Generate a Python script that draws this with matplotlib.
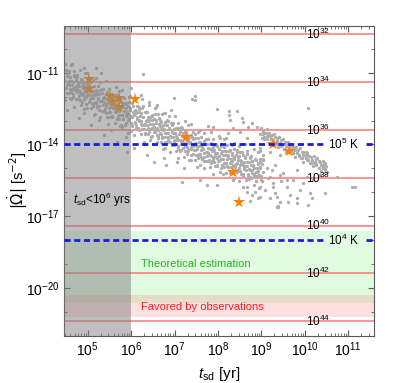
import numpy as np
import matplotlib
matplotlib.use("Agg")
import matplotlib.pyplot as plt
from matplotlib.ticker import FixedLocator, FixedFormatter, LogLocator, NullFormatter

plt.rcParams["font.family"] = ["Liberation Sans", "DejaVu Sans"]
plt.rcParams["mathtext.fontset"] = "custom"
plt.rcParams["mathtext.rm"] = "Liberation Sans"
plt.rcParams["mathtext.it"] = "Liberation Sans:italic"
plt.rcParams["mathtext.bf"] = "Liberation Sans:bold"

# all values are log10: t_sd in yr, |Omega dot| in s^-2
band_t = [
    4.47, 4.52, 4.49, 4.54, 4.46, 4.51, 4.53, 4.48,
    4.62, 4.56, 4.63, 4.58, 4.61, 4.59, 4.57, 4.64,
    4.69, 4.73, 4.66, 4.70, 4.74, 4.67, 4.72, 4.68,
    4.84, 4.78, 4.81, 4.77, 4.79, 4.83, 4.76, 4.82,
    4.92, 4.86, 4.93, 4.88, 4.91, 4.89, 4.87, 4.94,
    4.99, 5.03, 4.96, 5.00, 5.04, 4.97, 5.02, 4.98,
    5.14, 5.08, 5.11, 5.07, 5.09, 5.13, 5.06, 5.12,
    5.17, 5.22, 5.19, 5.24, 5.16, 5.21, 5.23, 5.18,
    5.29, 5.33, 5.26, 5.30, 5.34, 5.27, 5.32, 5.28,
    5.44, 5.38, 5.41, 5.37, 5.39, 5.43, 5.36, 5.42,
    5.47, 5.52, 5.49, 5.54, 5.46, 5.51, 5.53, 5.48,
    5.62, 5.56, 5.63, 5.58, 5.61, 5.59, 5.57, 5.64,
    5.74, 5.68, 5.71, 5.67, 5.69, 5.73, 5.66, 5.72,
    5.77, 5.82, 5.79, 5.84, 5.76, 5.81, 5.83, 5.78,
    5.92, 5.86, 5.93, 5.88, 5.91, 5.89, 5.87, 5.94,
    5.99, 6.03, 5.96, 6.00, 6.04, 5.97, 6.02, 5.98,
    6.07, 6.12, 6.09, 6.14, 6.06, 6.11, 6.13, 6.08,
    6.22, 6.16, 6.23, 6.18, 6.21, 6.19, 6.17, 6.24,
    6.29, 6.33, 6.26, 6.30, 6.34, 6.27, 6.32, 6.28,
    6.44, 6.38, 6.41, 6.37, 6.39, 6.43, 6.36, 6.42,
    6.52, 6.46, 6.53, 6.48, 6.51, 6.49, 6.47, 6.54,
    6.59, 6.63, 6.56, 6.60, 6.64, 6.57, 6.62, 6.58,
    6.74, 6.68, 6.71, 6.67, 6.69, 6.73, 6.66, 6.72,
    6.77, 6.82, 6.79, 6.84, 6.76, 6.81, 6.83, 6.78,
    6.89, 6.93, 6.86, 6.90, 6.94, 6.87, 6.92, 6.88,
    7.04, 6.98, 7.01, 6.97, 6.99, 7.03, 6.96, 7.02,
    7.07, 7.12, 7.09, 7.14, 7.06, 7.11, 7.13, 7.08,
    7.22, 7.16, 7.23, 7.18, 7.21, 7.19, 7.17, 7.24,
    7.34, 7.28, 7.31, 7.27, 7.29, 7.33, 7.26, 7.32,
    7.37, 7.42, 7.39, 7.44, 7.36, 7.41, 7.43, 7.38,
    7.52, 7.46, 7.53, 7.48, 7.51, 7.49, 7.47, 7.54,
    7.59, 7.63, 7.56, 7.60, 7.64, 7.57, 7.62, 7.58,
    7.67, 7.72, 7.69, 7.74, 7.66, 7.71, 7.73, 7.68,
    7.82, 7.76, 7.83, 7.78, 7.81, 7.79, 7.77, 7.84,
    7.89, 7.93, 7.86, 7.90, 7.94, 7.87, 7.92, 7.88,
    8.04, 7.98, 8.01, 7.97, 7.99, 8.03, 7.96, 8.02,
    8.12, 8.06, 8.13, 8.08, 8.11, 8.09, 8.07, 8.14,
    8.19, 8.23, 8.16, 8.20, 8.24, 8.17, 8.22, 8.18,
    8.34, 8.28, 8.31, 8.27, 8.29, 8.33, 8.26, 8.32,
    8.37, 8.42, 8.39, 8.44, 8.36, 8.41, 8.43, 8.38,
    8.49, 8.53, 8.46, 8.50, 8.54, 8.47, 8.52, 8.48,
    8.64, 8.58, 8.61, 8.57, 8.59, 8.63, 8.56, 8.62,
    8.67, 8.72, 8.69, 8.74, 8.66, 8.71, 8.73, 8.68,
    8.82, 8.76, 8.83, 8.78, 8.81, 8.79, 8.77, 8.84,
    8.94, 8.88, 8.91, 8.87, 8.89, 8.93, 8.86, 8.92,
    8.97, 9.02, 8.99, 9.04, 8.96, 9.01, 9.03, 8.98,
]
band_w = [
    -12.13, -11.85, -11.65, -11.47, -11.31, -11.14, -10.93, -10.65,
    -12.10, -11.85, -11.66, -11.50, -11.34, -11.16, -10.94, -10.62,
    -12.41, -12.10, -11.88, -11.70, -11.54, -11.38, -11.19, -10.93,
    -12.34, -12.08, -11.88, -11.71, -11.55, -11.37, -11.16, -10.86,
    -12.50, -12.22, -12.02, -11.84, -11.68, -11.51, -11.30, -11.02,
    -12.47, -12.22, -12.03, -11.87, -11.71, -11.53, -11.31, -10.99,
    -12.78, -12.47, -12.25, -12.07, -11.91, -11.75, -11.56, -11.30,
    -12.71, -12.45, -12.25, -12.08, -11.92, -11.74, -11.53, -11.23,
    -12.86, -12.58, -12.38, -12.20, -12.04, -11.87, -11.66, -11.38,
    -12.83, -12.58, -12.39, -12.23, -12.07, -11.89, -11.67, -11.35,
    -13.15, -12.84, -12.62, -12.44, -12.28, -12.12, -11.93, -11.67,
    -13.08, -12.82, -12.62, -12.45, -12.29, -12.11, -11.90, -11.60,
    -13.23, -12.95, -12.75, -12.57, -12.41, -12.24, -12.03, -11.75,
    -13.20, -12.95, -12.76, -12.60, -12.44, -12.26, -12.04, -11.72,
    -13.51, -13.20, -12.98, -12.80, -12.64, -12.48, -12.29, -12.03,
    -13.44, -13.18, -12.98, -12.81, -12.65, -12.47, -12.26, -11.96,
    -13.59, -13.31, -13.11, -12.93, -12.77, -12.60, -12.39, -12.11,
    -13.57, -13.32, -13.13, -12.97, -12.81, -12.63, -12.41, -12.09,
    -13.88, -13.57, -13.35, -13.17, -13.01, -12.85, -12.66, -12.40,
    -13.81, -13.55, -13.35, -13.18, -13.02, -12.84, -12.63, -12.33,
    -13.96, -13.68, -13.48, -13.30, -13.14, -12.97, -12.76, -12.48,
    -13.90, -13.65, -13.46, -13.30, -13.14, -12.96, -12.74, -12.42,
    -14.21, -13.90, -13.68, -13.50, -13.34, -13.18, -12.99, -12.73,
    -14.15, -13.89, -13.69, -13.52, -13.36, -13.18, -12.97, -12.67,
    -14.30, -14.02, -13.82, -13.64, -13.48, -13.31, -13.10, -12.82,
    -14.27, -14.02, -13.83, -13.67, -13.51, -13.33, -13.11, -12.79,
    -14.58, -14.27, -14.05, -13.87, -13.71, -13.55, -13.36, -13.10,
    -14.51, -14.25, -14.05, -13.88, -13.72, -13.54, -13.33, -13.03,
    -14.66, -14.38, -14.18, -14.00, -13.84, -13.67, -13.46, -13.18,
    -14.64, -14.39, -14.20, -14.04, -13.88, -13.70, -13.48, -13.16,
    -14.95, -14.64, -14.42, -14.24, -14.08, -13.92, -13.73, -13.47,
    -14.86, -14.60, -14.40, -14.23, -14.07, -13.89, -13.68, -13.38,
    -14.99, -14.71, -14.51, -14.33, -14.17, -14.00, -13.79, -13.51,
    -14.94, -14.69, -14.50, -14.34, -14.18, -14.00, -13.78, -13.46,
    -15.23, -14.92, -14.70, -14.52, -14.36, -14.20, -14.01, -13.75,
    -15.14, -14.88, -14.68, -14.51, -14.35, -14.17, -13.96, -13.66,
    -15.25, -14.97, -14.77, -14.59, -14.43, -14.26, -14.05, -13.77,
    -15.20, -14.95, -14.76, -14.60, -14.44, -14.26, -14.04, -13.72,
    -15.49, -15.18, -14.96, -14.78, -14.62, -14.46, -14.27, -14.01,
    -15.40, -15.14, -14.94, -14.77, -14.61, -14.43, -14.22, -13.92,
    -15.53, -15.25, -15.05, -14.87, -14.71, -14.54, -14.33, -14.05,
    -15.48, -15.23, -15.04, -14.88, -14.72, -14.54, -14.32, -14.00,
    -15.77, -15.46, -15.24, -15.06, -14.90, -14.74, -14.55, -14.29,
    -15.68, -15.42, -15.22, -15.05, -14.89, -14.71, -14.50, -14.20,
    -15.81, -15.53, -15.33, -15.15, -14.99, -14.82, -14.61, -14.33,
    -15.76, -15.51, -15.32, -15.16, -15.00, -14.82, -14.60, -14.28,
]
# denser core of the main band
core_t = [
    4.53, 4.58, 4.51, 4.56, 4.59, 4.54,
    4.67, 4.62, 4.69, 4.64, 4.61, 4.68,
    4.79, 4.75, 4.73, 4.78, 4.72, 4.76,
    4.83, 4.88, 4.81, 4.86, 4.89, 4.84,
    4.97, 4.92, 4.99, 4.94, 4.91, 4.98,
    5.09, 5.05, 5.03, 5.08, 5.02, 5.06,
    5.13, 5.18, 5.11, 5.16, 5.19, 5.14,
    5.27, 5.22, 5.29, 5.24, 5.21, 5.28,
    5.39, 5.35, 5.33, 5.38, 5.32, 5.36,
    5.43, 5.48, 5.41, 5.46, 5.49, 5.44,
    5.57, 5.52, 5.59, 5.54, 5.51, 5.58,
    5.69, 5.65, 5.63, 5.68, 5.62, 5.66,
    5.73, 5.78, 5.71, 5.76, 5.79, 5.74,
    5.87, 5.82, 5.89, 5.84, 5.81, 5.88,
    5.99, 5.95, 5.93, 5.98, 5.92, 5.96,
    6.03, 6.08, 6.01, 6.06, 6.09, 6.04,
    6.17, 6.12, 6.19, 6.14, 6.11, 6.18,
    6.29, 6.25, 6.23, 6.28, 6.22, 6.26,
    6.33, 6.38, 6.31, 6.36, 6.39, 6.34,
    6.47, 6.42, 6.49, 6.44, 6.41, 6.48,
    6.59, 6.55, 6.53, 6.58, 6.52, 6.56,
    6.63, 6.68, 6.61, 6.66, 6.69, 6.64,
    6.77, 6.72, 6.79, 6.74, 6.71, 6.78,
    6.89, 6.85, 6.83, 6.88, 6.82, 6.86,
    6.93, 6.98, 6.91, 6.96, 6.99, 6.94,
    7.07, 7.02, 7.09, 7.04, 7.01, 7.08,
    7.19, 7.15, 7.13, 7.18, 7.12, 7.16,
    7.23, 7.28, 7.21, 7.26, 7.29, 7.24,
    7.37, 7.32, 7.39, 7.34, 7.31, 7.38,
    7.49, 7.45, 7.43, 7.48, 7.42, 7.46,
    7.53, 7.58, 7.51, 7.56, 7.59, 7.54,
    7.67, 7.62, 7.69, 7.64, 7.61, 7.68,
    7.79, 7.75, 7.73, 7.78, 7.72, 7.76,
    7.83, 7.88, 7.81, 7.86, 7.89, 7.84,
    7.97, 7.92, 7.99, 7.94, 7.91, 7.98,
    8.09, 8.05, 8.03, 8.08, 8.02, 8.06,
    8.13, 8.18, 8.11, 8.16, 8.19, 8.14,
    8.27, 8.22, 8.29, 8.24, 8.21, 8.28,
    8.39, 8.35, 8.33, 8.38, 8.32, 8.36,
    8.43, 8.48, 8.41, 8.46, 8.49, 8.44,
    8.57, 8.52, 8.59, 8.54, 8.51, 8.58,
    8.69, 8.65, 8.63, 8.68, 8.62, 8.66,
    8.73, 8.78, 8.71, 8.76, 8.79, 8.74,
    8.87, 8.82, 8.89, 8.84, 8.81, 8.88,
    8.99, 8.95, 8.93, 8.98, 8.92, 8.96,
]
core_w = [
    -11.85, -11.67, -11.50, -11.34, -11.18, -11.00,
    -12.01, -11.82, -11.65, -11.49, -11.33, -11.15,
    -11.98, -11.80, -11.63, -11.47, -11.30, -11.11,
    -12.12, -11.94, -11.77, -11.61, -11.45, -11.27,
    -12.29, -12.10, -11.93, -11.77, -11.61, -11.43,
    -12.26, -12.08, -11.91, -11.75, -11.58, -11.39,
    -12.40, -12.22, -12.05, -11.89, -11.73, -11.55,
    -12.56, -12.37, -12.20, -12.04, -11.88, -11.70,
    -12.53, -12.35, -12.18, -12.02, -11.85, -11.66,
    -12.67, -12.49, -12.32, -12.16, -12.00, -11.82,
    -12.84, -12.65, -12.48, -12.32, -12.16, -11.98,
    -12.81, -12.63, -12.46, -12.30, -12.13, -11.94,
    -12.95, -12.77, -12.60, -12.44, -12.28, -12.10,
    -13.11, -12.92, -12.75, -12.59, -12.43, -12.25,
    -13.08, -12.90, -12.73, -12.57, -12.40, -12.21,
    -13.22, -13.04, -12.87, -12.71, -12.55, -12.37,
    -13.38, -13.19, -13.02, -12.86, -12.70, -12.52,
    -13.36, -13.18, -13.01, -12.85, -12.68, -12.49,
    -13.50, -13.32, -13.15, -12.99, -12.83, -12.65,
    -13.66, -13.47, -13.30, -13.14, -12.98, -12.80,
    -13.61, -13.43, -13.26, -13.10, -12.93, -12.74,
    -13.74, -13.56, -13.39, -13.23, -13.07, -12.89,
    -13.90, -13.71, -13.54, -13.38, -13.22, -13.04,
    -13.88, -13.70, -13.53, -13.37, -13.20, -13.01,
    -14.02, -13.84, -13.67, -13.51, -13.35, -13.17,
    -14.18, -13.99, -13.82, -13.66, -13.50, -13.32,
    -14.15, -13.97, -13.80, -13.64, -13.47, -13.28,
    -14.29, -14.11, -13.94, -13.78, -13.62, -13.44,
    -14.45, -14.26, -14.09, -13.93, -13.77, -13.59,
    -14.43, -14.25, -14.08, -13.92, -13.75, -13.56,
    -14.56, -14.38, -14.21, -14.05, -13.89, -13.71,
    -14.70, -14.51, -14.34, -14.18, -14.02, -13.84,
    -14.65, -14.47, -14.30, -14.14, -13.97, -13.78,
    -14.77, -14.59, -14.42, -14.26, -14.10, -13.92,
    -14.91, -14.72, -14.55, -14.39, -14.23, -14.05,
    -14.85, -14.67, -14.50, -14.34, -14.17, -13.98,
    -14.96, -14.78, -14.61, -14.45, -14.29, -14.11,
    -15.10, -14.91, -14.74, -14.58, -14.42, -14.24,
    -15.05, -14.87, -14.70, -14.54, -14.37, -14.18,
    -15.17, -14.99, -14.82, -14.66, -14.50, -14.32,
    -15.31, -15.12, -14.95, -14.79, -14.63, -14.45,
    -15.26, -15.08, -14.91, -14.75, -14.58, -14.39,
    -15.38, -15.20, -15.03, -14.87, -14.71, -14.53,
    -15.52, -15.33, -15.16, -15.00, -14.84, -14.66,
    -15.47, -15.29, -15.12, -14.96, -14.79, -14.60,
]
arm_t = [
    9.02, 8.97, 9.04, 8.99, 9.07, 9.13, 9.09, 9.12,
    9.18, 9.23, 9.21, 9.17, 9.33, 9.27, 9.31, 9.29,
    9.38, 9.42, 9.36, 9.41, 9.52, 9.47, 9.54, 9.49,
    9.57, 9.63, 9.59, 9.62, 9.73, 9.68, 9.71, 9.66,
    9.78, 9.82, 9.76, 9.81, 9.92, 9.87, 9.94, 9.89,
    9.97, 10.03, 9.99, 10.02, 10.13, 10.08, 10.11, 10.06,
    10.18, 10.22, 10.16, 10.21, 10.32, 10.27, 10.34, 10.29,
    10.37, 10.43, 10.39, 10.42, 10.52, 10.47, 10.50, 10.46,
    9.06, 9.03, 9.05, 9.14, 9.17, 9.15, 9.26, 9.23, 9.25,
    9.34, 9.37, 9.35, 9.46, 9.43, 9.45, 9.54, 9.57, 9.55,
    9.66, 9.63, 9.65, 9.74, 9.77, 9.75, 9.86, 9.83, 9.85,
    9.94, 9.97, 9.95, 10.06, 10.03, 10.05, 10.14, 10.17, 10.15,
    10.26, 10.23, 10.25, 10.34, 10.37, 10.35, 10.46, 10.43, 10.45,
]
arm_w = [
    -13.72, -13.57, -13.44, -13.30, -13.77, -13.63, -13.50, -13.36,
    -13.92, -13.77, -13.64, -13.50, -13.97, -13.83, -13.70, -13.56,
    -14.12, -13.97, -13.84, -13.70, -14.17, -14.03, -13.90, -13.76,
    -14.32, -14.17, -14.04, -13.90, -14.37, -14.23, -14.10, -13.96,
    -14.52, -14.37, -14.24, -14.10, -14.57, -14.43, -14.30, -14.16,
    -14.72, -14.57, -14.44, -14.30, -14.77, -14.63, -14.50, -14.36,
    -14.92, -14.77, -14.64, -14.50, -14.97, -14.83, -14.70, -14.56,
    -15.12, -14.97, -14.84, -14.70, -15.17, -15.03, -14.90, -14.76,
    -13.67, -13.55, -13.42, -13.77, -13.65, -13.52, -13.87, -13.75, -13.62,
    -13.97, -13.85, -13.72, -14.07, -13.95, -13.82, -14.17, -14.05, -13.92,
    -14.27, -14.15, -14.02, -14.37, -14.25, -14.12, -14.47, -14.35, -14.22,
    -14.57, -14.45, -14.32, -14.67, -14.55, -14.42, -14.77, -14.65, -14.52,
    -14.87, -14.75, -14.62, -14.97, -14.85, -14.72, -15.07, -14.95, -14.82,
]
stray_t = [
    7.47, 7.98, 8.26, 8.26, 8.28, 8.44, 8.56, 8.58, 8.70, 8.79, 8.90, 7.89,
    7.77, 8.35, 8.24, 8.51, 8.05, 8.67, 8.97, 9.04, 8.97, 9.20, 9.43,
    7.59, 7.98, 8.35, 8.58, 8.79, 8.86, 8.97, 9.09, 9.20, 9.32, 9.39, 9.43,
    8.74, 9.16, 9.27, 9.25, 9.43, 9.59,
    9.04, 9.13, 9.20, 9.32, 9.27, 9.45, 9.50, 9.59, 9.66, 9.73, 9.82, 9.89,
    9.96, 10.06, 10.12, 10.17, 10.19, 10.35, 10.75, 11.09, 11.16, 9.36, 9.82,
    8.67, 8.93, 9.36, 9.39, 9.62, 9.82, 10.08, 10.47, 10.08,
    4.50, 4.62, 4.69, 4.92, 5.19, 5.31, 6.28, 4.80, 4.92, 5.08, 5.26, 5.38,
    5.54, 5.79, 5.88, 5.68, 4.58, 4.53, 6.00, 6.23, 6.41, 6.60, 6.76, 6.92,
    6.99, 5.91, 6.07, 6.37, 6.53, 6.76, 6.81, 7.06, 7.22,
    7.47, 7.40, 7.18, 7.75,
]
stray_w = [
    -12.14, -12.51, -12.60, -12.77, -12.97, -12.60, -12.89, -13.06, -13.27, -13.10, -13.27, -13.27,
    -13.22, -13.31, -13.52, -13.48, -13.73, -13.73, -14.15, -14.44, -14.73, -14.31, -14.44,
    -15.49, -15.69, -15.45, -15.78, -16.11, -15.99, -16.20, -15.90, -16.24, -16.03, -16.62, -16.41,
    -16.38, -15.40, -15.61, -15.07, -15.28, -15.49,
    -14.65, -14.98, -15.36, -14.86, -15.78, -15.52, -15.19, -15.78, -16.11, -15.49, -15.07, -15.90,
    -15.61, -15.36, -16.03, -16.24, -15.49, -15.28, -15.36, -15.78, -15.78, -16.62, -16.45,
    -15.99, -16.24, -16.20, -16.57, -16.41, -16.24, -16.53, -16.03, -12.47,
    -10.88, -10.67, -11.09, -10.80, -10.80, -11.01, -11.05, -12.89, -12.68, -13.18, -12.97, -13.60,
    -13.39, -13.27, -13.69, -13.90, -12.05, -12.56, -11.64, -11.93, -12.22, -12.35, -12.68, -12.56,
    -12.05, -14.31, -14.15, -14.44, -14.73, -14.56, -14.86, -14.73, -14.98,
    -11.99, -12.10, -15.57, -15.69,
]
star_t = [5.03, 5.03, 5.52, 5.72, 5.59, 5.72, 6.09, 7.27, 8.35, 8.49, 9.27, 9.64]
star_w = [-11.26, -11.68, -11.97, -12.05, -12.22, -12.43, -12.10, -13.69, -15.15, -16.41, -13.98, -14.27]

# horizontal reference lines and their labels
line_w = [-9.38, -11.38, -13.39, -15.40, -17.40, -19.39, -21.39]
line_exp = [32, 34, 36, 38, 40, 42, 44]
temp_w = [-14.0, -18.0]
temp_exp = [5, 4]

theory_band = (-20.63, -17.62)
obs_band = (-21.22, -20.30)
t_cut = 6.0

xlim = (10**4.456, 10**11.6)
ylim = (10**-22.0, 10**-9.04)
xtick_exps = [5, 6, 7, 8, 9, 10, 11]
ytick_exps = [-11, -14, -17, -20]

fig = plt.figure(figsize=(4.01, 3.83), dpi=100)
ax = fig.add_axes([0.160, 0.124, 0.773, 0.808])
ax.set_xscale("log")
ax.set_yscale("log")
ax.set_xlim(*xlim)
ax.set_ylim(*ylim)

ax.axhspan(10**theory_band[0], 10**theory_band[1], color=(0.1, 0.9, 0.1), alpha=0.13, lw=0, zorder=0.5)
ax.axhspan(10**obs_band[0], 10**obs_band[1], color=(1.0, 0.2, 0.2), alpha=0.15, lw=0, zorder=0.6)

for w in line_w:
    ax.axhline(10**w, color=(1.0, 0.5, 0.5), lw=1.2, zorder=1)

dot_style = dict(ls="none", marker="o", ms=2.4, mew=0, color=(0.68, 0.68, 0.68), zorder=2)
for tt, ww in [(band_t, band_w), (core_t, core_w), (arm_t, arm_w), (stray_t, stray_w)]:
    ax.plot(10**np.array(tt), 10**np.array(ww), **dot_style)
ax.plot(10**np.array(star_t), 10**np.array(star_w), "*", ms=9.5, mew=0, color=(1.0, 0.5, 0.0), zorder=3)

ax.axvspan(xlim[0], 10**t_cut, color=(0.5, 0.5, 0.5), alpha=0.5, lw=0, zorder=4)

gap = (10**10.45, 10**11.42)
for w in temp_w:
    ax.plot([xlim[0], gap[0]], [10**w, 10**w], color=(0.1, 0.1, 0.9), lw=2, ls=(0, (2.2, 1.3)), zorder=5)
    ax.plot([gap[1], xlim[1]], [10**w, 10**w], color=(0.1, 0.1, 0.9), lw=2, ls=(0, (2.2, 1.3)), zorder=5)

for w, e in zip(line_w, line_exp):
    ax.text(10**10.31, 10**w, r"10$^{%d}$" % e, ha="center", va="center", fontsize=8.5, zorder=6)
for w, e in zip(temp_w, temp_exp):
    ax.text(10**10.9, 10**w, r"10$^{%d}$ K" % e, ha="center", va="center", fontsize=8.5, zorder=6)

ax.text(10**6.23, 10**-19.0, "Theoretical estimation", color=(0.15, 0.7, 0.15), fontsize=8, va="center", zorder=6)
ax.text(10**6.23, 10**-20.8, "Favored by observations", color=(1.0, 0.1, 0.1), fontsize=8, va="center", zorder=6)
ax.text(10**4.66, 10**-16.32, r"$t_{\rm sd}$<10$^6$ yrs", fontsize=8.5, va="center", zorder=6)

ax.xaxis.set_major_locator(FixedLocator([10.0**e for e in xtick_exps]))
ax.xaxis.set_major_formatter(FixedFormatter([r"10$^{%d}$" % e for e in xtick_exps]))
ax.xaxis.set_minor_locator(LogLocator(base=10, subs=np.arange(2, 10)))
ax.xaxis.set_minor_formatter(NullFormatter())
ax.yaxis.set_major_locator(FixedLocator([10.0**e for e in ytick_exps]))
ax.yaxis.set_major_formatter(FixedFormatter([r"10$^{%d}$" % e for e in ytick_exps]))
ax.yaxis.set_minor_locator(FixedLocator([10.0**e for e in range(-22, -8)]))
ax.yaxis.set_minor_formatter(NullFormatter())

ax.tick_params(which="both", direction="in", top=True, right=True, color=(0.35, 0.35, 0.35), labelsize=10)
ax.tick_params(which="major", length=4, width=0.8)
ax.tick_params(which="minor", length=2, width=0.6)
for s in ax.spines.values():
    s.set_color((0.35, 0.35, 0.35))
    s.set_linewidth(0.8)

ax.set_xlabel(r"$t_{\rm sd}$ [yr]", fontsize=11, labelpad=4)
ax.set_ylabel(r"$|\dot{\Omega}|$ [s$^{-2}$]", fontsize=10.5, math_fontfamily="dejavusans")
ax.yaxis.set_label_coords(-0.11, 0.5)

fig.savefig("out.png", dpi=100)
